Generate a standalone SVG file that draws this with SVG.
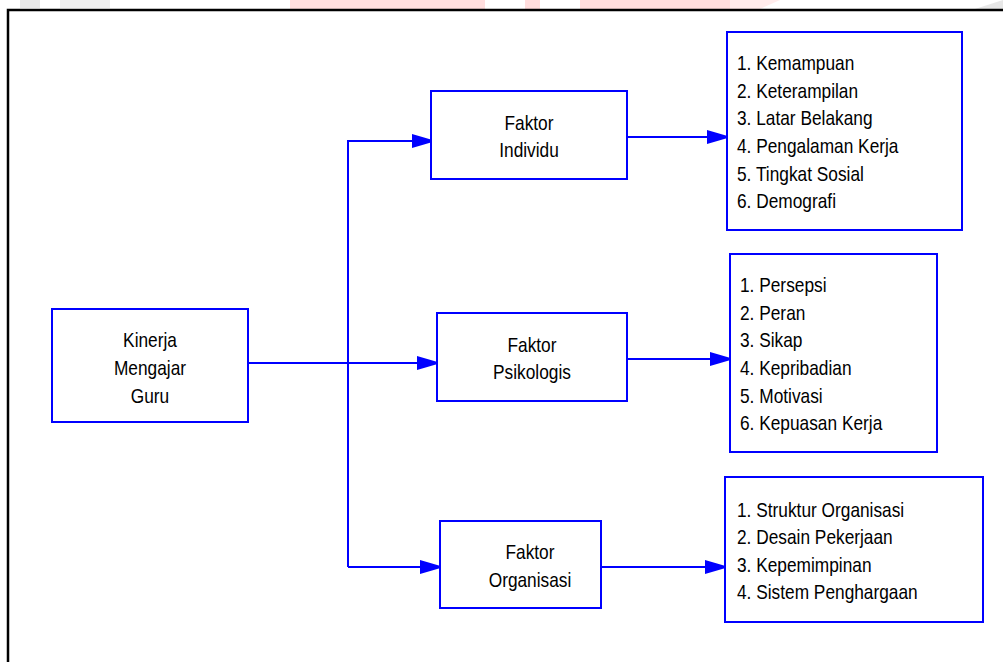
<svg xmlns="http://www.w3.org/2000/svg" width="1003" height="662" viewBox="0 0 1003 662">
<style>
.box{fill:#fff;stroke:#0000ff;stroke-width:2}
.con{fill:none;stroke:#0000ff;stroke-width:2}
.t{font-family:"Liberation Sans",Arial,sans-serif;font-size:20px;fill:#000}
.c{text-anchor:middle}
</style>
<defs>
<marker id="arr" markerUnits="userSpaceOnUse" markerWidth="26" markerHeight="16" refX="24" refY="7" orient="auto">
<path d="M0,0 L24,7 L0,14 z" fill="#0000ff"/>
</marker>
</defs>
<rect width="1003" height="662" fill="#fff"/>
<g id="watermark" opacity="0.6">
<rect x="290" y="0" width="195" height="9" fill="#ffc8c8"/>
<rect x="525" y="0" width="15" height="9" fill="#ffc8c8"/>
<rect x="580" y="0" width="150" height="9" fill="#ffc8c8"/>
<path d="M730,0 L780,0 L760,9 L730,9 z" fill="#ffe0e0"/>
<rect x="20" y="0" width="20" height="8" fill="#d8d8d8"/>
<rect x="60" y="0" width="50" height="8" fill="#e4e4e4"/>
<path d="M975,9 L1003,0 L1003,9 z" fill="#d8d8d8"/>
</g>
<g id="frame">
<path d="M8,662 L8,10 L1003,10" fill="none" stroke="#000" stroke-width="2.5"/>
</g>
<g id="connectors">
<path class="con" d="M248,363 L441,363" marker-end="url(#arr)"/>
<path class="con" d="M348,567 L348,141 L436,141" marker-end="url(#arr)"/>
<path class="con" d="M348,567 L444,567" marker-end="url(#arr)"/>
<path class="con" d="M627,137 L731,137" marker-end="url(#arr)"/>
<path class="con" d="M627,359 L734,359" marker-end="url(#arr)"/>
<path class="con" d="M601,567 L729,567" marker-end="url(#arr)"/>
</g>
<g id="kinerja">
<rect class="box" x="52" y="309" width="196" height="113"/>
<text class="t c" transform="translate(150,347) scale(0.865,1)">Kinerja</text>
<text class="t c" transform="translate(150,375) scale(0.865,1)">Mengajar</text>
<text class="t c" transform="translate(150,403) scale(0.865,1)">Guru</text>
</g>
<g id="faktor-individu">
<rect class="box" x="431" y="91" width="196" height="88"/>
<text class="t c" transform="translate(529,130) scale(0.865,1)">Faktor</text>
<text class="t c" transform="translate(529,157) scale(0.865,1)">Individu</text>
</g>
<g id="faktor-psikologis">
<rect class="box" x="437" y="313" width="190" height="88"/>
<text class="t c" transform="translate(532,352) scale(0.865,1)">Faktor</text>
<text class="t c" transform="translate(532,379) scale(0.865,1)">Psikologis</text>
</g>
<g id="faktor-organisasi">
<rect class="box" x="440" y="521" width="161" height="87"/>
<text class="t c" transform="translate(530,559) scale(0.865,1)">Faktor</text>
<text class="t c" transform="translate(530,587) scale(0.865,1)">Organisasi</text>
</g>
<g id="list-individu">
<rect class="box" x="727" y="32" width="235" height="198"/>
<text class="t" transform="translate(737,70) scale(0.865,1)">1. Kemampuan</text>
<text class="t" transform="translate(737,97.5) scale(0.865,1)">2. Keterampilan</text>
<text class="t" transform="translate(737,125) scale(0.865,1)">3. Latar Belakang</text>
<text class="t" transform="translate(737,152.7) scale(0.865,1)">4. Pengalaman Kerja</text>
<text class="t" transform="translate(737,180.5) scale(0.865,1)">5. Tingkat Sosial</text>
<text class="t" transform="translate(737,208) scale(0.865,1)">6. Demografi</text>
</g>
<g id="list-psikologis">
<rect class="box" x="730" y="254" width="207" height="198"/>
<text class="t" transform="translate(740,291.7) scale(0.865,1)">1. Persepsi</text>
<text class="t" transform="translate(740,319.5) scale(0.865,1)">2. Peran</text>
<text class="t" transform="translate(740,347) scale(0.865,1)">3. Sikap</text>
<text class="t" transform="translate(740,375) scale(0.865,1)">4. Kepribadian</text>
<text class="t" transform="translate(740,402.5) scale(0.865,1)">5. Motivasi</text>
<text class="t" transform="translate(740,430) scale(0.865,1)">6. Kepuasan Kerja</text>
</g>
<g id="list-organisasi">
<rect class="box" x="725" y="477" width="258" height="145"/>
<text class="t" transform="translate(737,516.5) scale(0.865,1)">1. Struktur Organisasi</text>
<text class="t" transform="translate(737,544) scale(0.865,1)">2. Desain Pekerjaan</text>
<text class="t" transform="translate(737,571.5) scale(0.865,1)">3. Kepemimpinan</text>
<text class="t" transform="translate(737,599) scale(0.865,1)">4. Sistem Penghargaan</text>
</g>
</svg>
